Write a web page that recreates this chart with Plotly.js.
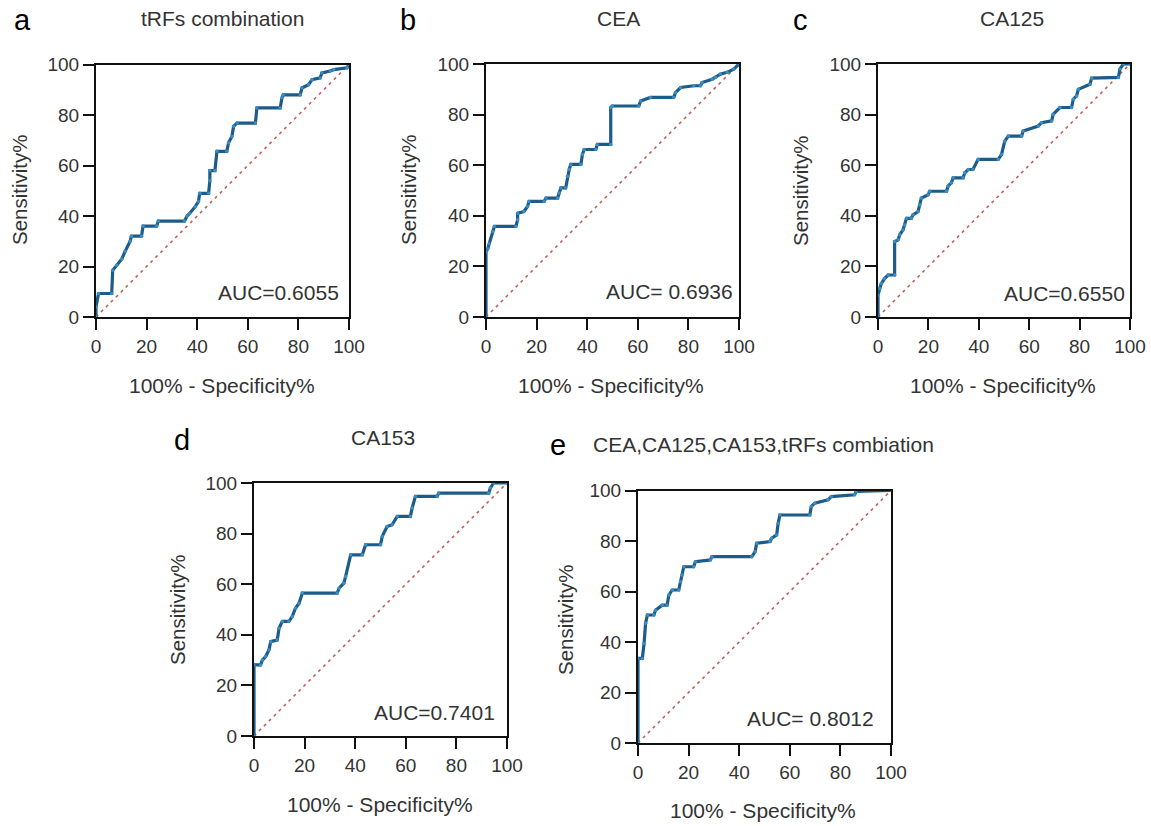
<!DOCTYPE html>
<html>
<head>
<meta charset="utf-8">
<script src="https://cdn.plot.ly/plotly-3.0.1.min.js"></script>
<style>html,body{margin:0;padding:0;background:#fff;}#chart{width:1151px;height:826px;}</style>
</head>
<body>
<div id="chart"></div>
<script>
// ---- data ----
const tickVals = [0, 20, 40, 60, 80, 100];
const panelLetters = ["a", "b", "c", "d", "e"];
const panelTitles = ["tRFs combination", "CEA", "CA125", "CA153", "CEA,CA125,CA153,tRFs combiation"];
const aucLabels = ["AUC=0.6055", "AUC= 0.6936", "AUC=0.6550", "AUC=0.7401", "AUC= 0.8012"];

const aX = [0, 0, 1, 6.2, 6.6, 8.2, 10.2, 11.5, 13.5, 14, 18, 18.6, 24, 24.6, 35, 36, 37, 39.2, 40.5, 41, 44.5, 45, 45, 47, 47.8, 51.7, 52.4, 53.7, 54.4, 55.7, 63, 63.6, 72.8, 73.5, 74, 80.7, 81.4, 84, 85.4, 88.6, 89.3, 92.6, 94, 99.2, 100];
const aY = [0, 4, 9.3, 9.3, 18.5, 20.5, 23, 26, 30, 32, 32, 36, 36, 38, 38, 40, 41, 43.7, 45.7, 49, 49, 54, 58, 58, 65.6, 65.6, 69, 71.5, 75.5, 76.8, 76.8, 82.8, 82.8, 86.8, 88, 88, 90.7, 92, 94, 94.7, 96.7, 97.4, 98, 98.7, 100];

const bX = [0, 0, 0.7, 1.3, 2.6, 3.3, 11.8, 12.5, 12.5, 15, 16.4, 17, 23, 23.7, 28.3, 28.9, 29.6, 31.5, 32.2, 32.9, 33.5, 37.5, 38.1, 38.8, 43.4, 44, 49.3, 49.3, 49.9, 60.4, 61.1, 65, 74.2, 74.9, 76.9, 82.1, 84.8, 85.4, 89.4, 90.7, 92.6, 95.3, 97.9, 100];
const bY = [0, 25.8, 27, 29, 33.8, 35.8, 35.8, 38.4, 41, 41.7, 43.7, 45.7, 45.7, 47, 47, 49, 51, 51, 55.6, 58.3, 60.3, 60.3, 64.2, 66.2, 66.2, 68.2, 68.2, 82.8, 83.4, 83.4, 85.4, 86.8, 86.8, 88.7, 90.7, 91.4, 91.4, 92.7, 94, 94.7, 96, 96.7, 98, 100];

const cX = [0, 0, 0.7, 1.3, 2.6, 4, 6.6, 6.6, 8, 8.6, 9.9, 10.6, 11.3, 13.2, 13.9, 15.9, 16.6, 17.2, 19.9, 20.5, 27.2, 27.8, 29.1, 29.8, 33.8, 34.4, 35.8, 37.7, 39.7, 47.7, 49, 50.3, 51.7, 57, 57.6, 63.6, 64.9, 68.9, 69.5, 72.2, 76.8, 77.5, 78.8, 79.5, 84.1, 84.8, 95.4, 96, 97.4, 100];
const cY = [0, 8.6, 11.3, 13.2, 15.2, 16.6, 16.6, 29.8, 30.5, 32.5, 34.4, 36.4, 39, 39, 40.4, 41.7, 44.4, 47, 48.3, 49.7, 49.7, 51.7, 53, 55, 55, 57, 58.3, 58.3, 62.3, 62.3, 64.2, 69.5, 71.5, 71.5, 73.5, 75.5, 76.8, 77.5, 80.1, 82.8, 82.8, 86.1, 87.4, 90, 92, 94.4, 94.7, 98, 100, 100];

const dX = [0, 0, 2.6, 3.3, 4.6, 5.9, 6.6, 9.2, 9.9, 11.2, 13.8, 15.1, 16.4, 17.8, 19.1, 32.9, 33.6, 35.5, 36.2, 38.2, 42.8, 44.1, 50, 50.7, 52.6, 54.6, 56.6, 61.8, 62.5, 63.8, 72.4, 73, 92.8, 93.4, 94.7, 100];
const dY = [0, 28.1, 28.1, 30, 31.4, 34, 37.3, 38, 42.6, 45.3, 45.3, 47.2, 50.5, 52.5, 56.5, 56.5, 58.4, 60.4, 63, 71.6, 71.6, 75.6, 75.6, 78.9, 82.8, 83.5, 86.8, 86.8, 90.1, 94.7, 94.7, 96, 96, 98, 100, 100];

const eX = [0, 0, 1.7, 2.4, 3, 3.7, 6.3, 6.9, 9.6, 11.5, 12.2, 13.5, 16.1, 16.8, 17.4, 18.1, 22, 22.7, 28.6, 29.2, 45, 46.3, 46.9, 52.2, 52.8, 54.8, 55.4, 56.1, 67.9, 68.5, 69.9, 75.1, 76.4, 85.6, 86.2, 100];
const eY = [0, 33.5, 33.5, 39.4, 47.4, 50.7, 50.7, 52.6, 54.6, 54.6, 58.6, 60.6, 60.6, 63.9, 66.5, 69.8, 69.8, 71.8, 72.5, 73.8, 73.8, 75.8, 79.1, 79.8, 81.1, 82.4, 87, 90.3, 90.3, 93.7, 95, 96.3, 97.6, 98.3, 99.6, 100];

const refLine = [0, 100];

// ---- layout geometry (pixels) ----
const W = 1151, H = 826;
const fx = v => v / W;
const fy = v => 1 - v / H;
const boxes = [
  {x0: 96, x1: 349, y0: 64.5, y1: 317},
  {x0: 486, x1: 739, y0: 64, y1: 317},
  {x0: 878, x1: 1130, y0: 64, y1: 317},
  {x0: 254, x1: 507, y0: 483, y1: 736},
  {x0: 638, x1: 891, y0: 490.5, y1: 743}
];
const letterPos = [[22, 20], [408, 20], [800, 20], [182, 440], [558, 445]];
const titlePos = [[222, 18], [618, 18], [1012, 18], [383, 437], [763, 445]];
const aucPos = [[341, 292], [735, 291], [1127, 293], [497, 712], [876, 718]];
const yTitlePos = [[20, 190], [409, 190], [801, 190], [177, 610], [565, 620]];
const xTitlePos = [[222, 385], [611, 385], [1003, 385], [380, 804], [763, 810]];

const curves = [[aX, aY], [bX, bY], [cX, cY], [dX, dY], [eX, eY]];
const FONT = "Liberation Sans, Arial, sans-serif";

const traces = [];
const layout = {
  width: W, height: H, margin: {l: 0, r: 0, t: 0, b: 0},
  paper_bgcolor: "#fff", plot_bgcolor: "#fff", showlegend: false,
  annotations: []
};

curves.forEach((c, i) => {
  const n = i === 0 ? "" : String(i + 1);
  traces.push({
    x: refLine, y: refLine, xaxis: "x" + n, yaxis: "y" + n, mode: "lines",
    line: {color: "#c0605a", width: 1.6, dash: "3px,4px"}, hoverinfo: "skip"
  });
  traces.push({
    x: c[0], y: c[1], xaxis: "x" + n, yaxis: "y" + n, mode: "lines+markers",
    line: {color: "#1d5b88", width: 3.2}, marker: {color: "#3a8cc2", size: 3.5},
    cliponaxis: false, hoverinfo: "skip"
  });
  const b = boxes[i];
  const ax = {
    range: [0, 100], tickvals: tickVals, showline: true, linewidth: 2, linecolor: "#111",
    mirror: true, ticks: "outside", ticklen: 11, tickwidth: 2, tickcolor: "#111",
    showgrid: false, zeroline: false, fixedrange: true,
    tickfont: {family: FONT, size: 19, color: "#333"}
  };
  layout["xaxis" + n] = Object.assign({}, ax, {domain: [fx(b.x0), fx(b.x1)], anchor: "y" + n});
  layout["yaxis" + n] = Object.assign({}, ax, {domain: [fy(b.y1), fy(b.y0)], anchor: "x" + n});

  layout.annotations.push({
    text: panelLetters[i], xref: "paper", yref: "paper", x: fx(letterPos[i][0]), y: fy(letterPos[i][1]),
    xanchor: "center", yanchor: "middle", showarrow: false, font: {family: FONT, size: 29, color: "#000"}
  });
  layout.annotations.push({
    text: panelTitles[i], xref: "paper", yref: "paper", x: fx(titlePos[i][0]), y: fy(titlePos[i][1]),
    xanchor: "center", yanchor: "middle", showarrow: false, font: {family: FONT, size: 21, color: "#333"}
  });
  layout.annotations.push({
    text: aucLabels[i], xref: "paper", yref: "paper", x: fx(aucPos[i][0]), y: fy(aucPos[i][1]),
    xanchor: "right", yanchor: "middle", showarrow: false, font: {family: FONT, size: 21, color: "#333"}
  });
  layout.annotations.push({
    text: "Sensitivity%", xref: "paper", yref: "paper", x: fx(yTitlePos[i][0]), y: fy(yTitlePos[i][1]),
    xanchor: "center", yanchor: "middle", textangle: -90, showarrow: false, font: {family: FONT, size: 20.5, color: "#333"}
  });
  layout.annotations.push({
    text: "100% - Specificity%", xref: "paper", yref: "paper", x: fx(xTitlePos[i][0]), y: fy(xTitlePos[i][1]),
    xanchor: "center", yanchor: "middle", showarrow: false, font: {family: FONT, size: 21, color: "#333"}
  });
});

Plotly.newPlot("chart", traces, layout, {staticPlot: true, displayModeBar: false});
</script>
</body>
</html>
